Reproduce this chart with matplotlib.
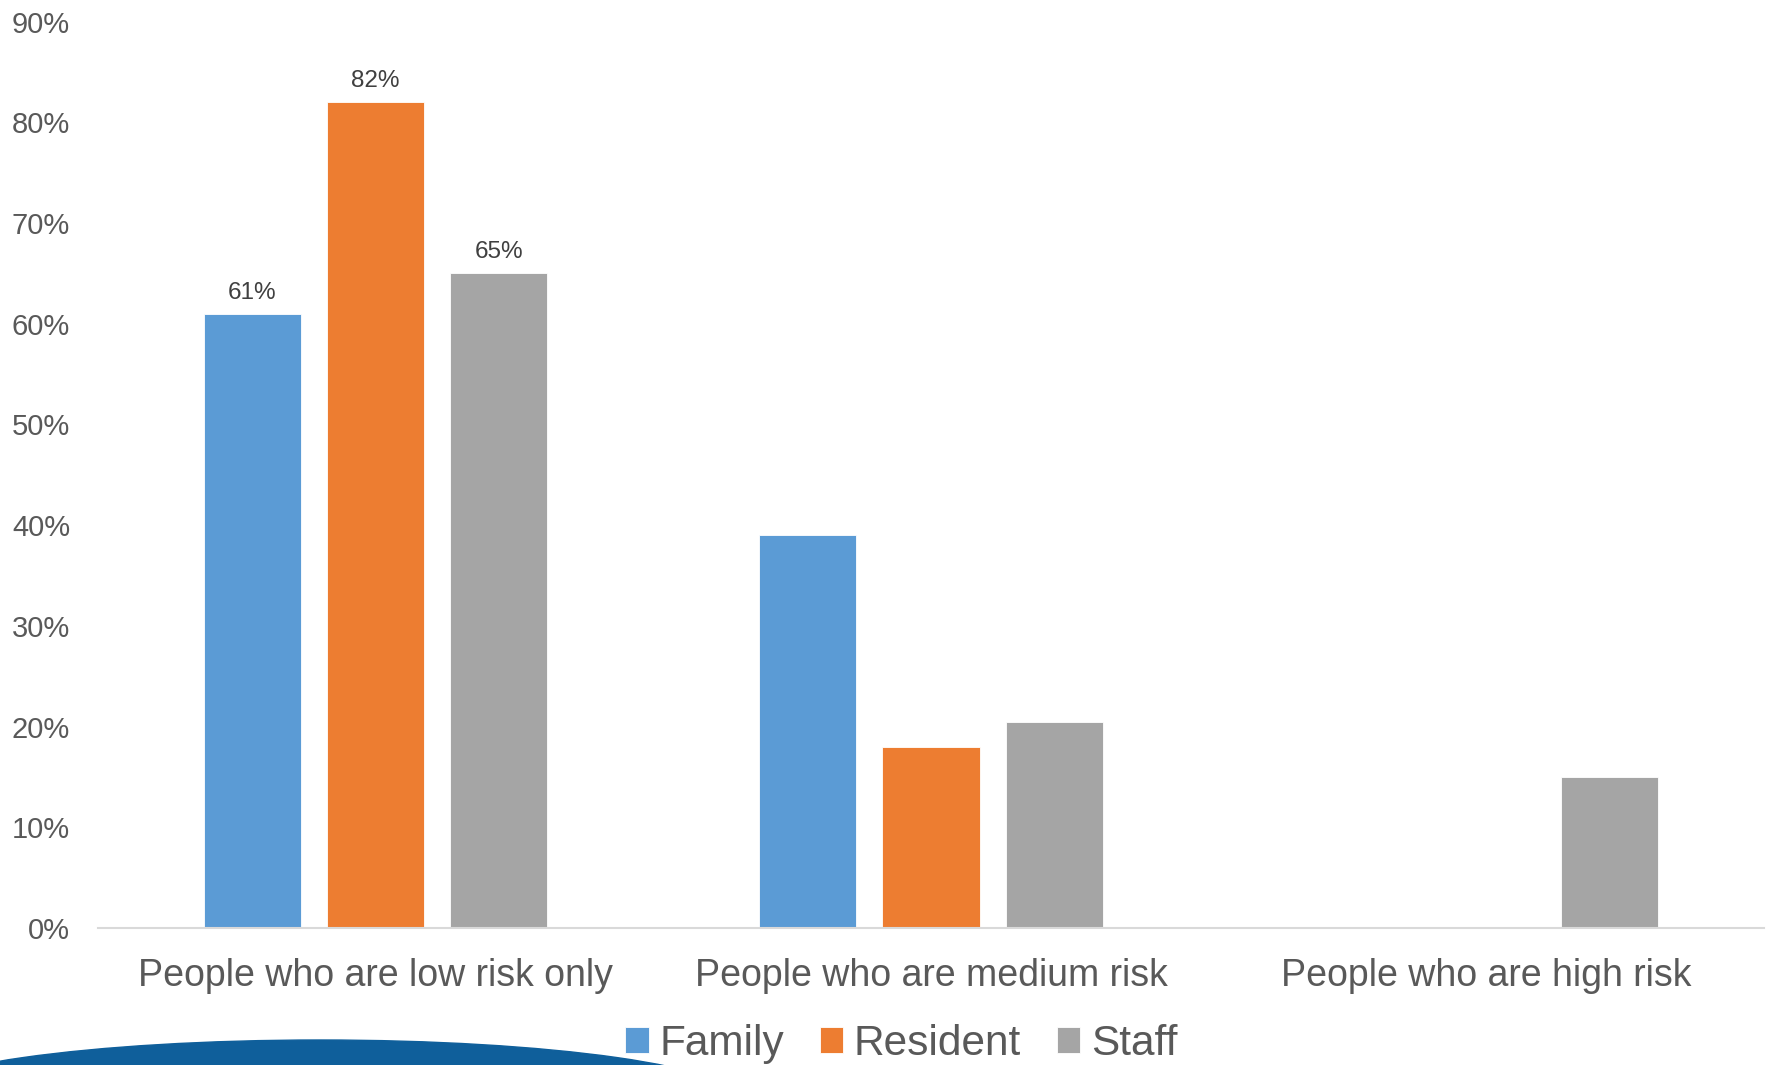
import numpy as np
import matplotlib.pyplot as plt
from matplotlib.patches import Ellipse

plt.rcParams["font.family"] = ["Liberation Sans", "DejaVu Sans"]

# データ
categories = ["People who are low risk only", "People who are medium risk", "People who are high risk"]
series_names = ["Family", "Resident", "Staff"]
family = [0.61, 0.39, 0.0]
resident = [0.82, 0.18, 0.0]
staff = [0.65, 0.205, 0.15]
yticks = [0, 0.1, 0.2, 0.3, 0.4, 0.5, 0.6, 0.7, 0.8, 0.9]

colors = ["#5B9BD5", "#ED7D31", "#A5A5A5"]
text_grey = "#595959"

fig = plt.figure(figsize=(17.71, 10.65), dpi=100)
ax = fig.add_axes([0.0553, 0.1286, 0.9407, 0.8512])

x = np.arange(len(categories))
width = 0.175
offsets = [-0.222, 0.0, 0.222]
all_series = [family, resident, staff]

bars = []
for vals, off, col, name in zip(all_series, offsets, colors, series_names):
    b = ax.bar(x + off, vals, width, color=col, label=name,
               edgecolor="white", linewidth=0.6, zorder=2)
    bars.append(b)

# ラベルは最初のグループのみ
for b, vals in zip(bars, all_series):
    rect = b[0]
    ax.annotate(f"{vals[0]*100:.0f}%",
                (rect.get_x() + rect.get_width() / 2, rect.get_height()),
                xytext=(0, 15), textcoords="offset points",
                ha="center", va="center", fontsize=17.5, color="#404040")

ax.set_xlim(-0.5, 2.5)
ax.set_ylim(0, 0.9)
ax.set_yticks(yticks)
ax.set_yticklabels([f"{int(round(t*100))}%" for t in yticks])
ax.set_xticks(x)
ax.set_xticklabels(categories)

ax.tick_params(axis="y", length=0, pad=20, labelsize=21, labelcolor=text_grey)
ax.tick_params(axis="x", length=0, pad=21.5, labelsize=27, labelcolor=text_grey)

for side in ["top", "right", "left"]:
    ax.spines[side].set_visible(False)
ax.spines["bottom"].set_color("#D9D9D9")
ax.spines["bottom"].set_linewidth(1.5)

leg = fig.legend(loc="center", bbox_to_anchor=(0.509, 1 - 1044 / 1065),
                 ncol=3, frameon=False, fontsize=30.5, handlelength=0.55,
                 handleheight=0.55, handletextpad=0.25, columnspacing=0.85,
                 labelcolor=text_grey)

# 左下の装飾
arc = Ellipse((320 / 1771, 1 - 1100 / 1065), 840 / 1771, 120 / 1065,
              transform=fig.transFigure, color="#0F5F9B", zorder=0)
fig.patches.append(arc)

fig.savefig("out.png", dpi=100)
